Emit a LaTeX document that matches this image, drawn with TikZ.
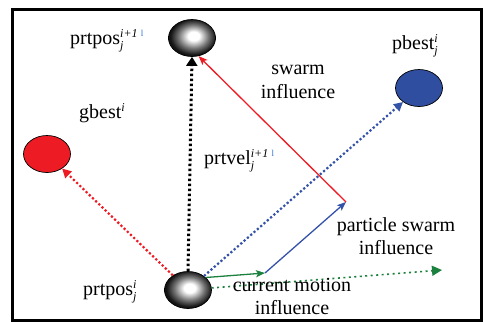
\documentclass[tikz,border=0pt]{standalone}
\usepackage{fontspec}
\setmainfont{Liberation Serif}
\usetikzlibrary{shapes.geometric,arrows.meta}
\definecolor{myred}{RGB}{237,28,36}
\definecolor{myblue}{RGB}{52,82,168}
\definecolor{myfill}{RGB}{48,78,160}
\definecolor{mygreen}{RGB}{28,128,62}
\definecolor{markblue}{RGB}{40,110,220}
\pgfdeclareradialshading{myball}{\pgfpoint{2bp}{3bp}}{color(0bp)=(white); color(6bp)=(white); color(16bp)=(black!55); color(24bp)=(black!92); color(50bp)=(black)}
\newcommand{\ssz}{\fontsize{12}{12}\selectfont\itshape}
\newcommand{\supsub}[2]{\rlap{\raisebox{6.5pt}{\ssz #1}}\rlap{\raisebox{-5pt}{\ssz #2}}\hphantom{\ssz #1}}
\newcommand{\bluel}{{\color{markblue}\fontsize{9}{9}\selectfont l}}
\begin{document}
\begin{tikzpicture}[x=1pt,y=-1pt,
  ball/.style={ellipse,minimum width=47pt,minimum height=37pt,inner sep=0pt,draw=black,line width=0.7pt},
  grayball/.style={ball,shading=myball},
  lbl/.style={font=\fontsize{20}{24}\selectfont,inner sep=0pt,align=center},
  dots/.style={line width=2.2pt,dash pattern=on 2.2pt off 2.2pt},
  stl/.style={line width=1.3pt,-{Stealth[length=9pt,width=7pt,inset=2pt]}}]
\useasboundingbox (0,0) rectangle (483,322);
\draw[line width=3pt] (12,9) rectangle (481,320);
% balls
\node[grayball] (top) at (192,38) {};
\node[grayball] (bot) at (188,290) {};
\node[ball,fill=myred] (gb) at (47,154) {};
\node[ball,fill=myfill] (pb) at (419,88) {};
\coordinate (cm) at (265,273);
\coordinate (ps) at (346,202);
\coordinate (ge) at (442,270);
% connectors
\draw[mygreen,line width=1.6pt,dash pattern=on 2pt off 3.5pt,-{Triangle[length=10pt,width=10pt]}] (bot.5) -- (ge);
\draw[dots,myred,-{Triangle[length=9pt,width=9pt]}] (bot) -- (gb);
\draw[dots,myblue,-{Triangle[length=9pt,width=9pt]}] (bot) -- (pb);
\draw[black,line width=3pt,dash pattern=on 2.6pt off 2.4pt,-{Triangle[length=9pt,width=11pt]}] (bot.north) -- (top.south);
\draw[stl,mygreen] (bot.35) -- (cm);
\draw[stl,myblue] (cm) -- (ps);
\draw[stl,myred] (ps) -- (top.-70);
% labels
\node[lbl,anchor=base west] (l1) at (70,44) {prtpos\supsub{i+1}{j}\,\raisebox{8pt}{\bluel}};
\node[lbl,anchor=base west] (l2) at (392,49) {pbest\supsub{i}{j}};
\node[lbl,anchor=base] (l3) at (298,74) {swarm};
\node[lbl,anchor=base] (l3b) at (298,98) {influence};
\node[lbl,anchor=base west] (l4) at (79,118) {gbest\rlap{\raisebox{6.5pt}{\ssz i}}};
\node[lbl,anchor=base west] (l5) at (204,164) {prtvel\supsub{i+1}{j}\,\raisebox{8pt}{\bluel}};
\node[lbl,anchor=base] (l6) at (396,231) {particle swarm};
\node[lbl,anchor=base] (l6b) at (396,254) {influence};
\node[lbl,anchor=base] (l7) at (292,291) {current motion};
\node[lbl,anchor=base] (l7b) at (292,314) {influence};
\node[lbl,anchor=base west] (l8) at (83,295) {prtpos\supsub{i}{j}};
\end{tikzpicture}
\end{document}
